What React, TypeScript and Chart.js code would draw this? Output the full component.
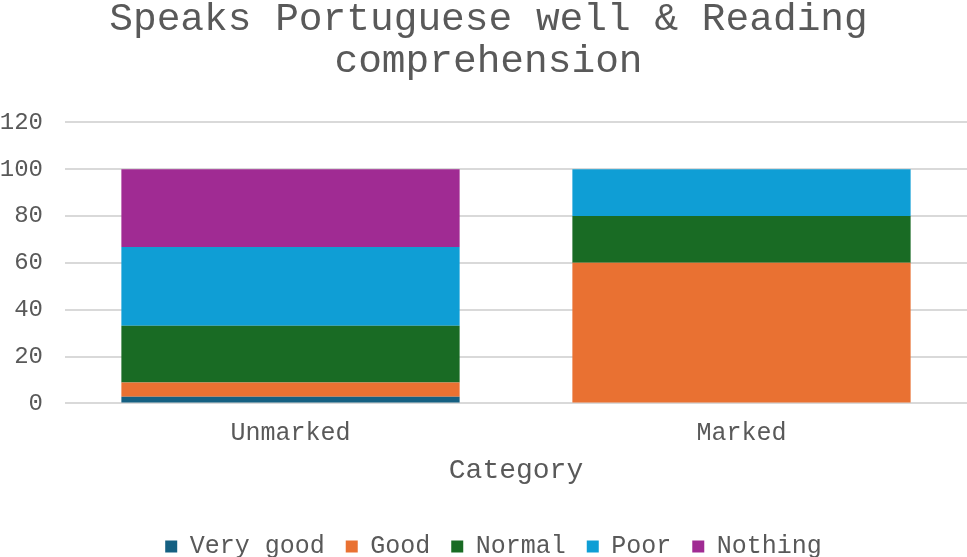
import React, { useEffect, useRef } from "react";
import { Chart, registerables } from "chart.js";

Chart.register(...registerables);

const categories = ["Unmarked", "Marked"];
const veryGood = [2.8, 0];
const good = [6.1, 60];
const normal = [24.3, 20];
const poor = [33.6, 20];
const nothing = [33.2, 0];
const yTicks = [0, 20, 40, 60, 80, 100, 120];
const titleLines = ["Speaks Portuguese well & Reading", "comprehension"];

const FONT = "'Liberation Mono', 'DejaVu Sans Mono', monospace";
const TEXT = "#595959";

const shiftPlugin = {
  id: "shiftBlocks",
  afterLayout(chart: any) {
    const l = chart.legend;
    if (l) {
      l.left += 10;
      l.right += 10;
    }
    const t = chart.titleBlock;
    if (t) {
      t.left += 5;
      t.right += 5;
    }
  },
};

export default function App() {
  const ref = useRef<HTMLCanvasElement>(null);
  useEffect(() => {
    document.body.style.margin = "0";
    const ctx = ref.current!;
    const chart = new Chart(ctx, {
      type: "bar",
      data: {
        labels: categories,
        datasets: [
          { label: "Very good", data: veryGood, backgroundColor: "#156082" },
          { label: "Good", data: good, backgroundColor: "#E97132" },
          { label: "Normal", data: normal, backgroundColor: "#196B24" },
          { label: "Poor", data: poor, backgroundColor: "#0F9ED5" },
          { label: "Nothing", data: nothing, backgroundColor: "#A02B93" },
        ].map((d) => ({ ...d, barPercentage: 0.75, categoryPercentage: 1, borderWidth: 0 })),
      },
      plugins: [shiftPlugin],
      options: {
        animation: false,
        responsive: false,
        maintainAspectRatio: false,
        layout: { padding: { top: -2, left: 0, right: 0, bottom: -12 } },
        plugins: {
          title: {
            display: true,
            text: titleLines,
            color: TEXT,
            font: { family: FONT, size: 39.5, weight: "normal", lineHeight: 1.08 },
            padding: { top: 0, bottom: 39 },
          },
          legend: {
            position: "bottom",
            labels: {
              color: TEXT,
              font: { family: FONT, size: 25 },
              boxWidth: 12,
              boxHeight: 12,
              padding: 21,
            },
          },
          tooltip: { enabled: false },
        },
        scales: {
          x: {
            stacked: true,
            grid: { display: false },
            border: { display: false },
            ticks: { color: TEXT, font: { family: FONT, size: 25 }, padding: 7 },
            title: {
              display: true,
              text: "Category",
              color: TEXT,
              font: { family: FONT, size: 28 },
              padding: { top: -2, bottom: 26 },
            },
          },
          y: {
            stacked: true,
            min: 0,
            max: 120,
            afterBuildTicks: (axis: any) => {
              axis.ticks = yTicks.map((v) => ({ value: v }));
            },
            afterFit: (axis: any) => {
              axis.width = 65;
            },
            grid: { color: "#D9D9D9", lineWidth: 2, drawTicks: false },
            border: { display: false },
            ticks: { color: TEXT, font: { family: FONT, size: 24 }, padding: 22 },
          },
        },
      },
    });
    return () => chart.destroy();
  }, []);
  return <canvas ref={ref} width={967} height={557} style={{ display: "block" }} />;
}
